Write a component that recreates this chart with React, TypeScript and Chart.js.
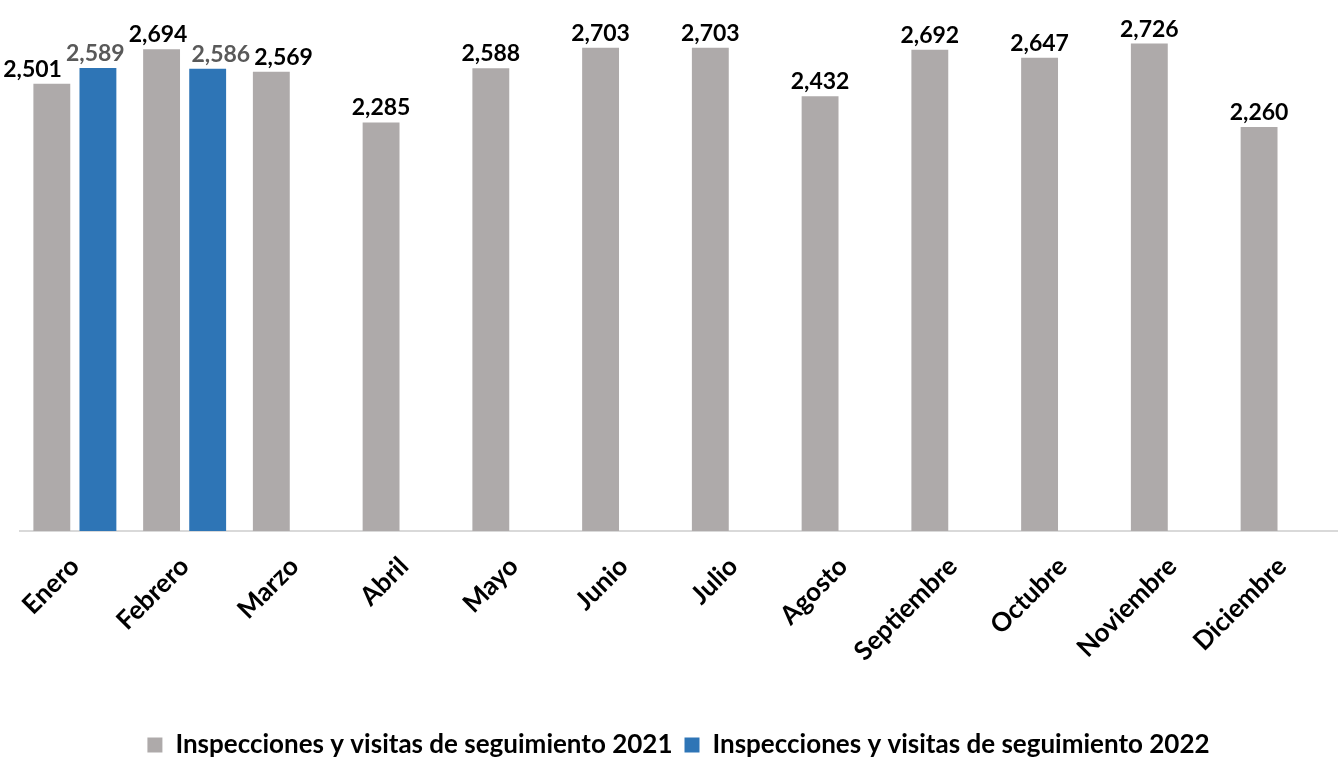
import React, { useEffect, useRef } from "react";
import { Chart, registerables } from "chart.js";

Chart.register(...registerables);

const months = ["Enero", "Febrero", "Marzo", "Abril", "Mayo", "Junio", "Julio", "Agosto", "Septiembre", "Octubre", "Noviembre", "Diciembre"];
const visits2021 = [2501, 2694, 2569, 2285, 2588, 2703, 2703, 2432, 2692, 2647, 2726, 2260];
const visits2022 = [2589, 2586, null, null, null, null, null, null, null, null, null, null];
const seriesNames = ["Inspecciones y visitas de seguimiento 2021", "Inspecciones y visitas de seguimiento 2022"];

const FONT = "Lato, 'Open Sans', sans-serif";

const labelPlugin = {
  id: "barLabels",
  afterDatasetsDraw(chart: any) {
    const ctx = chart.ctx;
    ctx.save();
    ctx.font = `bold 23px ${FONT}`;
    ctx.textAlign = "center";
    ctx.textBaseline = "bottom";
    const items: any[] = [];
    chart.data.datasets.forEach((ds: any, i: number) => {
      const meta = chart.getDatasetMeta(i);
      meta.data.forEach((el: any, j: number) => {
        const v = ds.data[j];
        if (v === null || v === undefined) return;
        const text = v.toLocaleString("en-US");
        items.push({ text, x: el.x, y: el.y - 3, w: ctx.measureText(text).width, color: ds.labelColor });
      });
    });
    items.sort((a, b) => a.x - b.x);
    // simple collision avoidance between neighbouring labels
    for (let it = 0; it < 30; it++) {
      for (let k = 0; k < items.length - 1; k++) {
        const a = items[k];
        const b = items[k + 1];
        if (Math.abs(a.y - b.y) > 26) continue;
        const need = a.w / 2 + b.w / 2 + 4;
        const d = b.x - a.x;
        if (d < need) {
          const s = (need - d) / 2;
          a.x -= s;
          b.x += s;
        }
      }
    }
    items.forEach((o) => {
      ctx.fillStyle = o.color;
      ctx.fillText(o.text, o.x, o.y);
    });
    ctx.restore();
  },
};

export default function App() {
  const ref = useRef<HTMLCanvasElement>(null);
  useEffect(() => {
    const chart = new Chart(ref.current!, {
      type: "bar",
      data: {
        labels: months,
        datasets: [
          { label: seriesNames[0], data: visits2021, backgroundColor: "#AEAAAA", labelColor: "#000000" } as any,
          { label: seriesNames[1], data: visits2022, backgroundColor: "#2E75B6", labelColor: "#595959" } as any,
        ],
      },
      options: {
        animation: false,
        responsive: false,
        maintainAspectRatio: false,
        layout: { padding: { left: 20, right: 4, top: 0, bottom: -8 } },
        datasets: { bar: { categoryPercentage: 0.84, barPercentage: 0.8 } },
        scales: {
          x: {
            grid: { display: false, drawTicks: false },
            border: { display: true, color: "#D9D9D9", width: 2 },
            ticks: {
              color: "#000000",
              font: { family: FONT, size: 26, weight: "bold" },
              maxRotation: 45,
              minRotation: 45,
              padding: 20,
              autoSkip: false,
            },
            afterFit: (scale: any) => {
              scale.height = 189;
            },
          },
          y: { display: false, min: 0, max: 2970 },
        },
        plugins: {
          legend: {
            position: "bottom",
            labels: {
              color: "#000000",
              font: { family: FONT, size: 26, weight: "bold" },
              boxWidth: 15,
              boxHeight: 15,
              padding: 12,
            },
          },
          tooltip: { enabled: false },
        },
      },
      plugins: [labelPlugin],
    });
    return () => chart.destroy();
  }, []);
  return (
    <div style={{ position: "fixed", left: 0, top: 0, width: 1341, height: 760, background: "#fff" }}>
      <canvas ref={ref} width={1341} height={760} style={{ width: 1341, height: 760 }} />
    </div>
  );
}
